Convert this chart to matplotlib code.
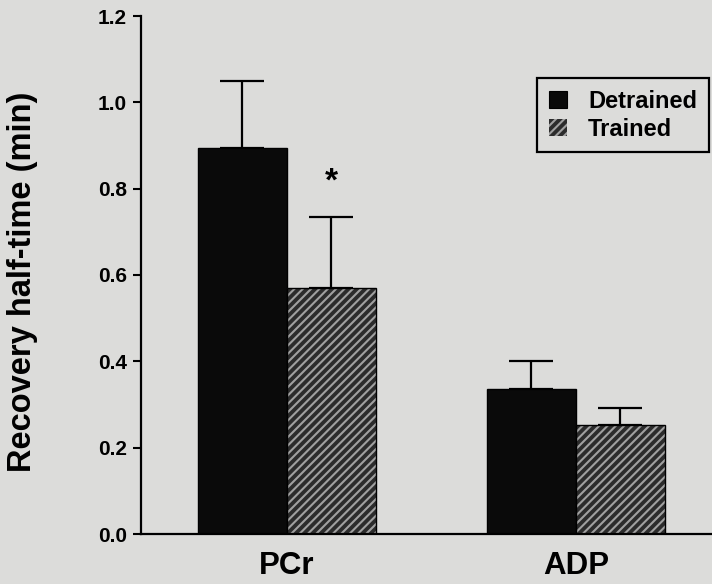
import matplotlib
matplotlib.use("Agg")
import matplotlib.pyplot as plt
from matplotlib.patches import Patch
import numpy as np

# Recovery half-times (min), mean and upper SD
metabolites = ["PCr", "ADP"]
detrained_mean = [0.894, 0.335]
detrained_sd = [0.155, 0.066]
trained_mean = [0.570, 0.252]
trained_sd = [0.165, 0.039]
series_labels = ["Detrained", "Trained"]
y_ticks = [0.0, 0.2, 0.4, 0.6, 0.8, 1.0, 1.2]

plt.rcParams["font.family"] = ["Liberation Sans", "DejaVu Sans"]
plt.rcParams["font.weight"] = "bold"
plt.rcParams["hatch.linewidth"] = 1.5

bg = "#dcdcda"
fig = plt.figure(figsize=(7.12, 5.84), dpi=100, facecolor=bg)
W, H = 712, 584
ax = fig.add_axes([141 / W, 50 / H, (W - 141) / W, 518 / H])
ax.set_facecolor(bg)

x = np.arange(len(metabolites))
w = 0.308

# detrained: solid black
ax.bar(x - w / 2, detrained_mean, w, color="#0a0a0a", edgecolor="black",
       linewidth=1.0, zorder=2)
# trained: dark with light diagonal stripes
ax.bar(x + w / 2, trained_mean, w, color="#2c2c2c", edgecolor="#a0a0a0",
       hatch="////", linewidth=0, zorder=2)
ax.bar(x + w / 2, trained_mean, w, fill=False, edgecolor="black",
       linewidth=1.0, zorder=3)

# upward error bars only
err_kw = dict(fmt="none", ecolor="black", elinewidth=1.6, capsize=15.5,
              capthick=1.6, zorder=1)
ax.errorbar(x - w / 2, detrained_mean,
            yerr=[np.zeros(len(x)), detrained_sd], **err_kw)
ax.errorbar(x + w / 2, trained_mean,
            yerr=[np.zeros(len(x)), trained_sd], **err_kw)

# significance marker
ax.text(x[0] + w / 2, 0.815, "*", ha="center", va="center",
        fontsize=24, fontweight="bold", zorder=4)

ax.set_ylim(0, 1.2)
ax.set_xlim(-0.505, 1.471)
ax.set_yticks(y_ticks)
ax.set_yticklabels([f"{t:.1f}" for t in y_ticks], fontsize=15,
                   fontweight="bold")
ax.tick_params(axis="y", direction="out", length=6, width=1.5, pad=4)
ax.set_xticks(x)
ax.set_xticklabels(metabolites, fontsize=22.5, fontweight="bold")
ax.tick_params(axis="x", length=0, pad=12.5)

for s in ["top", "right"]:
    ax.spines[s].set_visible(False)
for s in ["left", "bottom"]:
    ax.spines[s].set_linewidth(1.6)

fig.text(23 / W, 1 - 282 / H, "Recovery half-time (min)", rotation=90,
         ha="center", va="center", fontsize=23.5, fontweight="bold")

handles = [
    Patch(facecolor="#0a0a0a", edgecolor="black", linewidth=0.8),
    Patch(facecolor="#2c2c2c", edgecolor="#a0a0a0", hatch="////", linewidth=0),
]
leg = ax.legend(handles, series_labels, loc="upper right",
                bbox_to_anchor=(709 / W, 1 - 78 / H),
                bbox_transform=fig.transFigure, borderaxespad=0,
                prop=dict(weight="bold", size=17),
                handlelength=0.76, handleheight=0.72, handletextpad=0.9,
                labelspacing=0.2, borderpad=0.5, fancybox=False,
                framealpha=1, facecolor=bg, edgecolor="black")
leg.get_frame().set_linewidth(1.6)

fig.savefig("out.png", dpi=100, facecolor=bg)
